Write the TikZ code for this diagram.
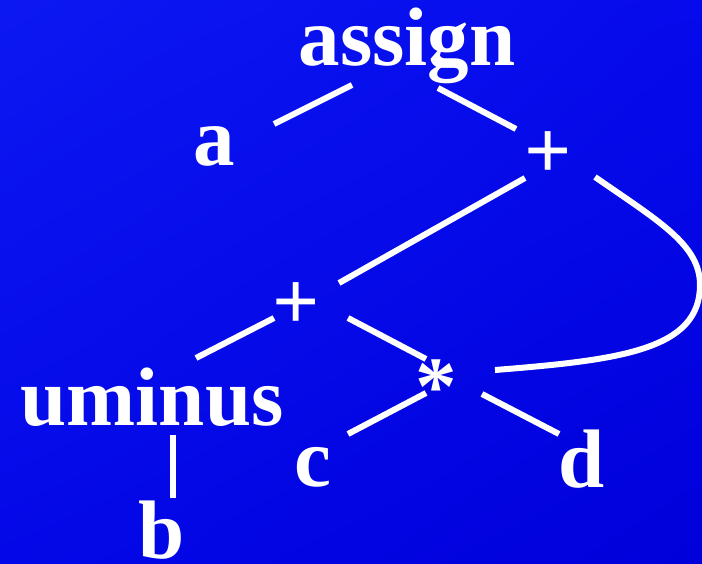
\documentclass[tikz,border=0pt]{standalone}
\usepackage{fontspec}
\usetikzlibrary{shadings}
\setmainfont{Liberation Serif}
\definecolor{bgul}{RGB}{12,24,242}
\definecolor{bgur}{RGB}{6,10,236}
\definecolor{bgll}{RGB}{4,8,232}
\definecolor{bglr}{RGB}{0,0,218}
\tikzset{
  lbl/.style={anchor=base, inner sep=0pt, outer sep=0pt, text=white,
    font=\fontsize{83}{90}\selectfont\bfseries},
  edge/.style={draw=white, line width=6pt, line cap=butt}
}
\begin{document}
\begin{tikzpicture}[x=1pt, y=-1pt]
\useasboundingbox (0,0) rectangle (702,563);
\shade[upper left=bgul, upper right=bgur, lower left=bgll, lower right=bglr]
  (0,0) rectangle (702,563);
% nodes
\node[lbl] (assign) at (407,65) {assign};
\node[lbl] (a) at (214.5,165) {a};
\node[lbl] (p1) at (548,178) {+};
\node[lbl] (p2) at (296,329) {+};
\node[lbl] (uminus) at (152,425) {uminus};
\node[lbl] (star) at (436,414) {*};
\node[lbl] (c) at (312.5,486) {c};
\node[lbl] (d) at (582,487) {d};
\node[lbl] (b) at (161.5,558) {b};
\coordinate (bend) at (700,285);
% connectors
\draw[edge] ([shift={(-55,20)}]assign.base) -- ([shift={(59.5,-41)}]a.base);
\draw[edge] ([shift={(31,23)}]assign.base) -- ([shift={(-32,-49)}]p1.base);
\draw[edge] ([shift={(-23,0)}]p1.base) -- ([shift={(43,-46)}]p2.base);
\draw[edge] ([shift={(47,-1)}]p1.base) .. controls (660,222) and (700,245) .. (bend)
  .. controls (700,350) and (620,360) .. ([shift={(59,-44)}]star.base);
\draw[edge] ([shift={(-22,-11)}]p2.base) -- ([shift={(44,-67)}]uminus.base);
\draw[edge] ([shift={(52,-11)}]p2.base) -- ([shift={(-10,-55)}]star.base);
\draw[edge] ([shift={(-10,-21)}]star.base) -- ([shift={(35.5,-52)}]c.base);
\draw[edge] ([shift={(46,-20)}]star.base) -- ([shift={(-23,-53)}]d.base);
\draw[edge] ([shift={(21,10)}]uminus.base) -- ([shift={(11.5,-60)}]b.base);
\end{tikzpicture}
\end{document}
